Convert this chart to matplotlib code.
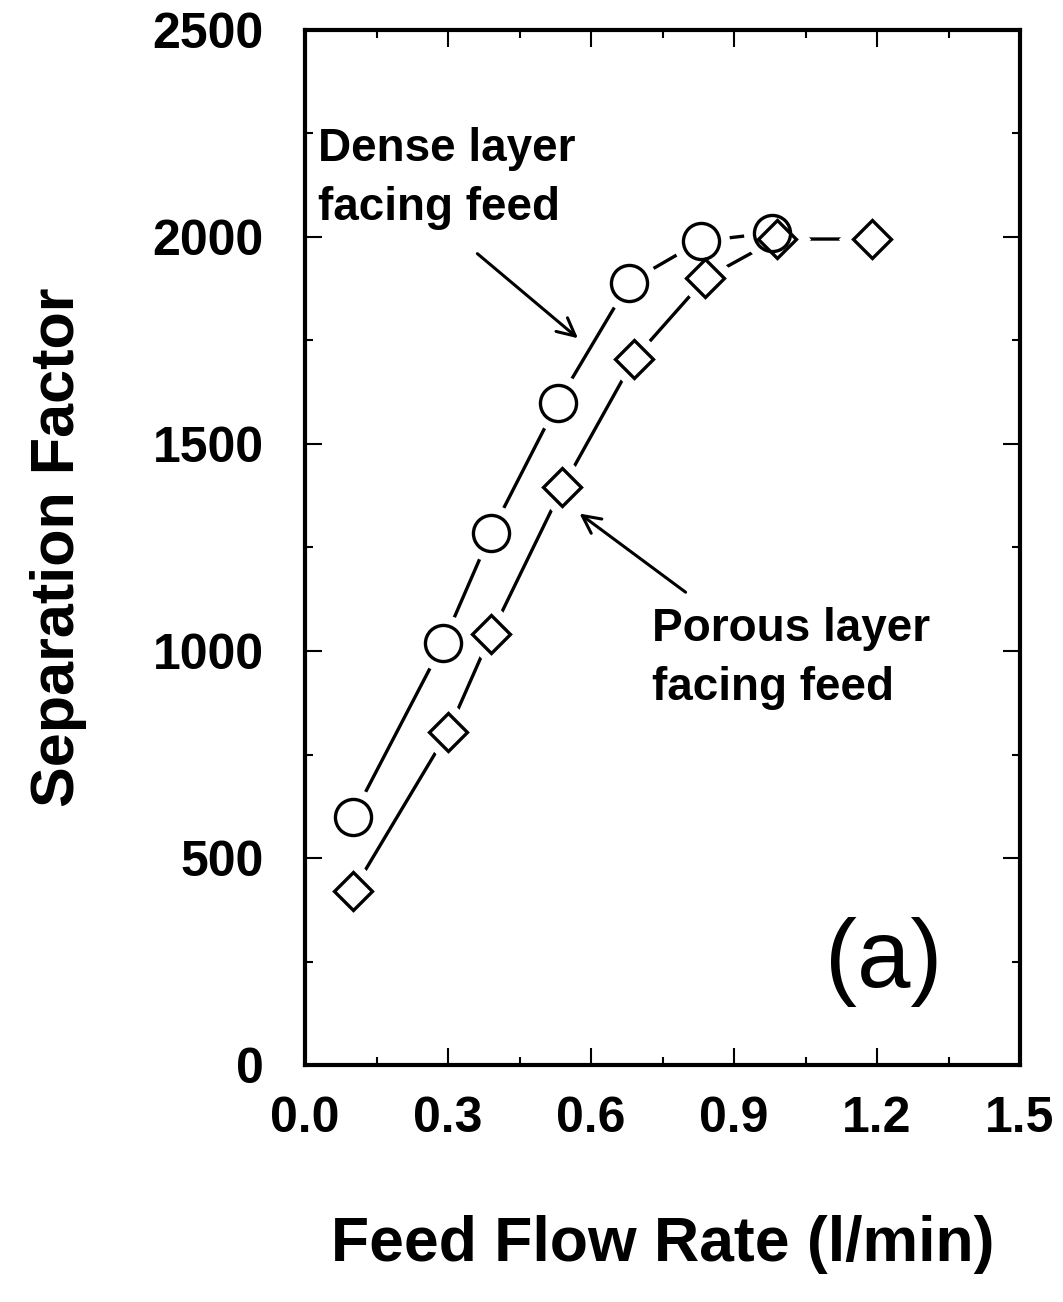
import matplotlib
matplotlib.use("Agg")
import matplotlib.pyplot as plt
from matplotlib.ticker import MultipleLocator

# Data
flow_dense = [0.10, 0.29, 0.39, 0.53, 0.68, 0.83, 0.98]
sf_dense = [600, 1020, 1285, 1600, 1890, 1990, 2010]

flow_porous = [0.10, 0.30, 0.39, 0.54, 0.69, 0.84, 0.99, 1.19]
sf_porous = [420, 805, 1040, 1395, 1705, 1900, 1995, 1995]

x_ticks = [0.0, 0.3, 0.6, 0.9, 1.2, 1.5]
x_tick_labels = ["0.0", "0.3", "0.6", "0.9", "1.2", "1.5"]
y_ticks = [0, 500, 1000, 1500, 2000, 2500]

plt.rcParams['font.family'] = ['Liberation Sans', 'DejaVu Sans']
plt.rcParams['font.weight'] = 'bold'

fig = plt.figure(figsize=(10.63, 13.02), dpi=100)
ax = fig.add_axes([0.287, 0.182, 0.6726, 0.795])


def draw_series(x, y, marker, size):
    # connecting line, then white halo to open a gap, then the open marker
    ax.plot(x, y, color='black', lw=2.4, zorder=1)
    ax.plot(x, y, ls='none', marker=marker, ms=size, mfc='white',
            mec='white', mew=15, zorder=2)
    ax.plot(x, y, ls='none', marker=marker, ms=size, mfc='none',
            mec='black', mew=2.4, zorder=3)


draw_series(flow_dense, sf_dense, 'o', 26)
draw_series(flow_porous, sf_porous, 'D', 19)

ax.set_xlim(0, 1.5)
ax.set_ylim(0, 2500)
ax.set_xticks(x_ticks)
ax.set_xticklabels(x_tick_labels)
ax.set_yticks(y_ticks)
ax.xaxis.set_minor_locator(MultipleLocator(0.15))
ax.yaxis.set_minor_locator(MultipleLocator(250))

ax.tick_params(which='both', direction='in', top=True, right=True, width=1.5)
ax.tick_params(which='major', length=12)
ax.tick_params(which='minor', length=6)
ax.tick_params(axis='x', labelsize=36, pad=22)
ax.tick_params(axis='y', labelsize=36, pad=30)
for sp in ax.spines.values():
    sp.set_linewidth(3)

ax.set_xlabel('Feed Flow Rate (l/min)', fontsize=45, fontweight='bold')
ax.set_ylabel('Separation Factor', fontsize=44, fontweight='bold')
ax.xaxis.set_label_coords(0.5, -0.145)
ax.yaxis.set_label_coords(-0.305, 0.5)

# annotations
ax.text(0.027, 2142, 'Dense layer\nfacing feed', fontsize=33, fontweight='bold',
        ha='left', va='center', linespacing=1.45)
ax.annotate('', xy=(0.577, 1751), xytext=(0.357, 1964),
            arrowprops=dict(arrowstyle='->', lw=2.2, color='black',
                            mutation_scale=32))
ax.text(0.728, 982, 'Porous layer\nfacing feed', fontsize=33, fontweight='bold',
        ha='left', va='center', linespacing=1.45)
ax.annotate('', xy=(0.571, 1336), xytext=(0.803, 1138),
            arrowprops=dict(arrowstyle='->', lw=2.2, color='black',
                            mutation_scale=32))

ax.text(1.213, 249, '(a)', fontsize=69, fontweight='normal',
        ha='center', va='center')

fig.savefig('out.png', dpi=100)
